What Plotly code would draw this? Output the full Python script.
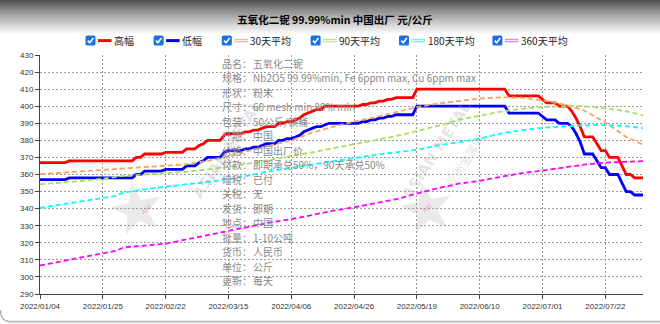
import math
import pandas as pd
import plotly.graph_objects as go

# ---------------- trading calendar used as the category axis ----------------
holidays = ["2022-01-31", "2022-02-01", "2022-02-02", "2022-02-03", "2022-02-04",
            "2022-04-04", "2022-04-05", "2022-05-02", "2022-05-03", "2022-05-04",
            "2022-06-03"]
extra_workdays = ["2022-04-02", "2022-04-24", "2022-05-07"]
bdays = pd.bdate_range("2022-01-04", "2022-08-04")
bdays = bdays[~bdays.isin(pd.to_datetime(holidays))].union(pd.to_datetime(extra_workdays))
dates = [d.strftime("%Y/%m/%d") for d in bdays]

tick_dates = ["2022/01/04", "2022/01/25", "2022/02/22", "2022/03/15", "2022/04/06",
              "2022/04/26", "2022/05/19", "2022/06/10", "2022/07/01", "2022/07/22"]

# ---------------- daily high / low prices (元/公斤) ----------------
high = [367, 367, 367, 367, 367, 367, 367, 368, 368, 368, 368, 368, 368, 368, 368,
        368, 368, 368, 368, 368, 368, 368, 368, 370, 370, 372, 372, 372, 372, 372,
        373, 373, 373, 373, 373, 375, 375, 375, 377, 378, 380, 380, 380, 380, 383,
        384, 384, 384, 384, 385, 385, 386, 386, 387, 388, 388, 388, 390, 390, 391,
        391, 392, 393, 395, 396, 397, 398, 398, 400, 400, 400, 400, 400, 400, 400,
        400, 400, 401, 401, 402, 402, 403, 403, 404, 404, 405, 405, 405, 405, 405,
        410, 410, 410, 410, 410, 410, 410, 410, 410, 410, 410, 410, 410, 410, 410,
        410, 410, 410, 410, 410, 410, 410, 406, 406, 406, 406, 406, 406, 406, 406,
        404, 402, 402, 402, 400, 400, 400, 397, 393, 388, 382, 382, 382, 378, 374,
        374, 370, 370, 370, 365, 360, 360, 358, 358, 358]

low = [357, 357, 357, 357, 357, 357, 357, 358, 358, 358, 358, 358, 358, 358, 358,
       358, 358, 358, 358, 358, 358, 358, 358, 360, 360, 362, 362, 362, 362, 362,
       363, 363, 363, 363, 363, 365, 365, 365, 367, 368, 370, 370, 370, 370, 373,
       374, 374, 374, 374, 375, 375, 376, 376, 377, 378, 378, 378, 380, 380, 381,
       381, 382, 383, 385, 386, 387, 388, 388, 389, 390, 390, 390, 390, 390, 390,
       390, 390, 391, 391, 392, 392, 393, 393, 394, 394, 395, 395, 395, 395, 395,
       400, 400, 400, 400, 400, 400, 400, 400, 400, 400, 400, 400, 400, 400, 400,
       400, 400, 400, 400, 400, 400, 400, 396, 396, 396, 396, 396, 396, 396, 396,
       394, 392, 392, 392, 390, 390, 390, 388, 384, 379, 372, 372, 372, 368, 364,
       364, 360, 360, 360, 355, 350, 350, 348, 348, 348]

# ---------------- moving averages, sampled on trading-day positions ----------------
ma_idx = [0, 5, 10, 15, 18, 20, 25, 30, 35, 40, 45, 50, 55, 60, 65, 70, 75, 80, 85, 90,
          95, 100, 105, 110, 115, 120, 125, 130, 135, 140, 144]
ma30 = [360.2, 361, 362, 362.8, 363.2, 363.4, 364, 365, 366, 368, 370.5, 374, 377, 380,
        384.5, 388, 391, 393.5, 396.5, 399.5, 401.5, 403.2, 404.5, 405.2, 405, 403.5,
        401, 397.5, 390.5, 382, 377.5]
ma90 = [354.3, 355.2, 356.2, 357.5, 358.5, 359.2, 360, 360.8, 361.6, 363, 364.5, 366.5,
        368.5, 370.8, 373, 375.3, 377.8, 380, 382.5, 385.5, 388.5, 392, 394.5, 396.8,
        398.5, 399.5, 400, 400, 398.8, 397, 394.7]
ma180 = [340.5, 342.3, 344.2, 346.2, 347.5, 349.5, 351.3, 352.9, 354.3, 355.6, 357.2,
         359.5, 362, 364, 366, 367.8, 369.5, 371.5, 373, 374.5, 377, 379, 381, 384, 386,
         387.3, 388.2, 388.8, 389, 388.3, 387.2]
ma360 = [306.7, 309, 311.3, 313.6, 315.2, 317.3, 318.3, 319.5, 322, 324.5, 327.3, 329.6,
         331.9, 333.8, 336.5, 338.8, 340.8, 343, 345.5, 348.8, 352, 354.6, 356.3, 358.6,
         360.8, 362.3, 364, 365.8, 367, 367.5, 367.8]
ma_dates = [dates[i] for i in ma_idx]

series_names = ["高幅", "低幅", "30天平均", "90天平均", "180天平均", "360天平均"]
series_colors = ["#ff0000", "#0000ff", "#f4a460", "#a8e05a", "#00ffff", "#ff00ff"]
legend_pale = [None, None, "#dcc0a0", "#c3e4a0", "#7fe8ee", "#dd88dd"]

title_text = "五氧化二铌 99.99%min 中国出厂 元/公斤"
info_labels = ["品名：", "规格：", "形状：", "尺寸：", "包装：", "产地：", "价格：", "付款：",
               "增税：", "关税：", "发货：", "地点：", "批量：", "货币：", "单位：", "更新："]
info_values = ["五氧化二铌", "Nb2O5 99.99%min, Fe 6ppm max, Cu 6ppm max", "粉末",
               "60 mesh min 90% min", "50公斤/铁桶", "中国", "中国出厂价",
               "即期承兑50%，90天承兑50%", "已付", "无", "即期", "中国", "1-10公吨",
               "人民币", "公斤", "每天"]

# ---------------- geometry helpers (pixel -> paper) ----------------
W, H = 660, 324
PL, PR, PT, PB = 40, 643, 55, 294


def px(x):
    return (x - PL) / (PR - PL)


def py(y):
    return (PB - y) / (PB - PT)


fig = go.Figure()

# price lines
fig.add_trace(go.Scatter(x=dates, y=high, mode="lines", name=series_names[0],
                         line=dict(color=series_colors[0], width=2.8)))
fig.add_trace(go.Scatter(x=dates, y=low, mode="lines", name=series_names[1],
                         line=dict(color=series_colors[1], width=2.8)))
for name, col, vals in zip(series_names[2:], series_colors[2:], [ma30, ma90, ma180, ma360]):
    fig.add_trace(go.Scatter(x=ma_dates, y=vals, mode="lines", name=name,
                             line=dict(color=col, width=1.8, dash="5px,3px")))

shapes = []
annotations = []

# grey shadow band across the top
for k in range(36):
    t = min(1.0, k / 34.0)
    g = int(round(78 + (255 - 78) * t ** 0.85))
    shapes.append(dict(type="rect", xref="paper", yref="paper",
                       x0=px(0), x1=px(W), y0=py(k + 1), y1=py(k),
                       fillcolor=f"rgb({g},{g},{g})", line=dict(width=0), layer="below"))

# rounded frame edge at the bottom
shapes.append(dict(type="path", xref="paper", yref="paper",
                   path=f"M {px(0.5)} {py(310)} Q {px(0.5)} {py(321.5)} {px(10)} {py(321.5)} L {px(W)} {py(321.5)}",
                   line=dict(color="#b4b4b4", width=1.5)))
shapes.append(dict(type="line", xref="paper", yref="paper",
                   x0=px(8), x1=px(W), y0=py(323.2), y1=py(323.2),
                   line=dict(color="#dedede", width=1.2)))


# faint watermark: star logo + diagonal brand text
def star_path(cx, cy, r_out, r_in, rot_deg):
    pts = []
    for i in range(10):
        r = r_out if i % 2 == 0 else r_in
        a = math.radians(-90 + rot_deg + i * 36)
        pts.append((cx + r * math.cos(a), cy + r * math.sin(a)))
    return "M " + " L ".join(f"{px(x)} {py(y)}" for x, y in pts) + " Z"


for (sx, sy), (ax, ay) in [((137, 210), (186, 150)), ((427, 209), (478, 150))]:
    shapes.append(dict(type="path", xref="paper", yref="paper", layer="below",
                       path=star_path(sx, sy, 27, 11, -12),
                       fillcolor="rgba(190,190,190,0.32)", line=dict(width=0)))
    annotations.append(dict(x=px(sx), y=py(sy), xref="paper", yref="paper", text="AM",
                            showarrow=False, textangle=-40,
                            font=dict(family="DejaVu Sans", size=7, color="rgba(225,90,90,0.4)")))
    annotations.append(dict(x=px(ax), y=py(ay), xref="paper", yref="paper",
                            text="<b>ASIAN METAL</b>", showarrow=False, textangle=-57,
                            font=dict(family="DejaVu Sans", size=15, color="rgba(165,165,165,0.30)")))
    annotations.append(dict(x=px(ax + 12), y=py(ay + 10), xref="paper", yref="paper",
                            text="亚洲金属网", showarrow=False, textangle=-57,
                            font=dict(family="Noto Sans CJK SC", size=12, color="rgba(165,165,165,0.30)")))

# legend row: checkbox, line sample, label
cb_left = [85.5, 153.6, 221.8, 310.6, 399.0, 492.4]
for i, cx in enumerate(cb_left):
    x0, x1, y0, y1 = cx, cx + 10, 35.5, 45.5
    r = 1.6
    shapes.append(dict(type="path", xref="paper", yref="paper",
                       path=(f"M {px(x0 + r)} {py(y0)} L {px(x1 - r)} {py(y0)} "
                             f"Q {px(x1)} {py(y0)} {px(x1)} {py(y0 + r)} L {px(x1)} {py(y1 - r)} "
                             f"Q {px(x1)} {py(y1)} {px(x1 - r)} {py(y1)} L {px(x0 + r)} {py(y1)} "
                             f"Q {px(x0)} {py(y1)} {px(x0)} {py(y1 - r)} L {px(x0)} {py(y0 + r)} "
                             f"Q {px(x0)} {py(y0)} {px(x0 + r)} {py(y0)} Z"),
                       fillcolor="#1d6fe6", line=dict(width=0)))
    shapes.append(dict(type="path", xref="paper", yref="paper",
                       path=f"M {px(cx + 2.3)} {py(40.6)} L {px(cx + 4.3)} {py(42.8)} L {px(cx + 7.9)} {py(37.9)}",
                       line=dict(color="white", width=1.6)))
    lx0, lx1 = cx + 12.5, cx + 26
    if legend_pale[i] is None:
        shapes.append(dict(type="line", xref="paper", yref="paper",
                           x0=px(lx0), x1=px(lx1), y0=py(40.6), y1=py(40.6),
                           line=dict(color=series_colors[i], width=3)))
    else:
        shapes.append(dict(type="line", xref="paper", yref="paper",
                           x0=px(lx0), x1=px(lx1), y0=py(40.6), y1=py(40.6),
                           line=dict(color=legend_pale[i], width=3.5)))
        shapes.append(dict(type="line", xref="paper", yref="paper",
                           x0=px(lx0 + 0.5), x1=px(lx1 - 0.5), y0=py(40.6), y1=py(40.6),
                           line=dict(color="#f8f8f8", width=1)))
    annotations.append(dict(x=px(cx + 26.5), y=py(41), xref="paper", yref="paper",
                            xanchor="left", yanchor="middle", text=series_names[i],
                            showarrow=False,
                            font=dict(family="Noto Sans CJK SC", size=10, color="#222222")))

# specification block
for k, (lab, val) in enumerate(zip(info_labels, info_values)):
    yy = 63.3 + 14.5 * k
    annotations.append(dict(x=px(219.5), y=py(yy), xref="paper", yref="paper",
                            xanchor="left", yanchor="middle", text=lab, showarrow=False,
                            font=dict(family="Noto Sans CJK SC", size=10, color="#888888")))
    annotations.append(dict(x=px(250.5), y=py(yy), xref="paper", yref="paper",
                            xanchor="left", yanchor="middle", text=val, showarrow=False,
                            font=dict(family="Noto Sans CJK SC", size=10, color="#888888")))

fig.update_layout(
    width=W, height=H,
    margin=dict(l=PL, r=W - PR, t=PT, b=H - PB, pad=0),
    paper_bgcolor="white", plot_bgcolor="white",
    template="none",
    showlegend=False,
    hovermode=False,
    title=dict(text=f"<b>{title_text}</b>", x=335 / W, xref="container", xanchor="center",
               y=1 - 20 / H, yref="container", yanchor="middle",
               font=dict(family="Noto Sans CJK SC", size=10.5, color="#000000")),
    xaxis=dict(type="category", categoryorder="array", categoryarray=dates,
               range=[0, len(dates) - 1], tickmode="array", tickvals=tick_dates,
               ticktext=tick_dates, ticks="outside", ticklen=4, tickcolor="#444",
               showline=True, linecolor="#444", linewidth=1,
               showgrid=True, gridcolor="#9a9a9a", gridwidth=1, griddash="2px,2px",
               zeroline=False, automargin=False,
               tickfont=dict(family="Liberation Sans", size=8, color="#333333")),
    yaxis=dict(range=[290, 430], tickmode="linear", tick0=290, dtick=10,
               ticks="outside", ticklen=4, tickcolor="#444",
               showline=True, linecolor="#444", linewidth=1,
               showgrid=True, gridcolor="#9a9a9a", gridwidth=1, griddash="2px,2px",
               zeroline=False, automargin=False,
               tickfont=dict(family="Liberation Sans", size=8, color="#333333")),
    shapes=shapes,
    annotations=annotations,
)

fig.write_html("out.html")
